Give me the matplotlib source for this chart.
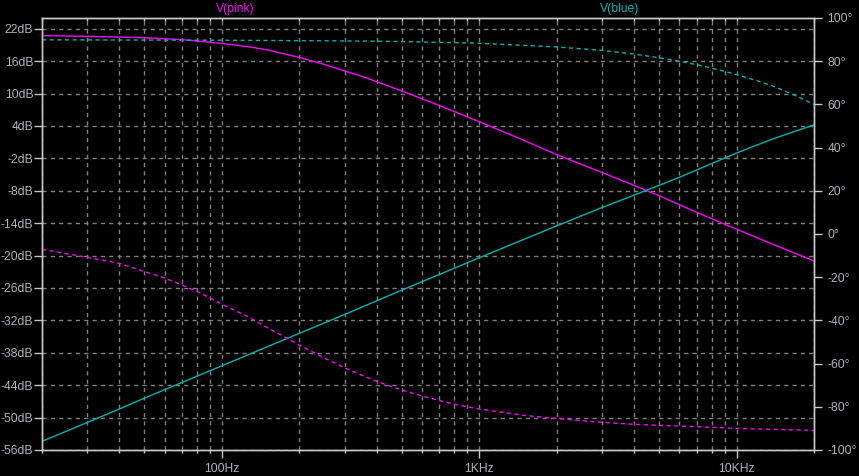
import matplotlib.pyplot as plt
import numpy as np
from matplotlib.ticker import FixedLocator, FixedFormatter, NullFormatter

# frequencies (Hz) and values
freq_pink_mag = [20, 30, 50, 70, 100, 130, 150, 200, 250, 300, 350, 400, 500,
                 700, 1000, 1500, 2000, 3000, 4000, 5000, 7000, 10000, 14000, 20000]
pink_mag = [20.75, 20.6, 20.35, 20.0, 19.3, 18.6, 18.1, 16.7, 15.4, 14.2, 13.2,
            12.2, 10.5, 7.8, 4.8, 1.3, -1.3, -4.6, -7.0, -8.9, -12.0, -15.1,
            -18.0, -21.0]

freq_pink_ph = [20, 30, 40, 50, 60, 70, 80, 90, 100, 125, 150, 175, 200, 250,
                300, 350, 400, 450, 500, 600, 700, 800, 900, 1000, 1500, 2000,
                3000, 4000, 5000, 7000, 10000, 20000]
pink_ph = [-7.1, -10.8, -13.6, -17.4, -20.4, -23.6, -26.6, -29.6, -32.5, -38.0,
           -43.3, -47.6, -51.4, -57.4, -61.9, -65.4, -68.2, -70.4, -72.2,
           -75.0, -77.1, -78.8, -80.0, -81.0, -84.0, -85.4, -87.2, -88.1,
           -88.6, -89.2, -90.0, -90.9]

freq_blue_mag = [20, 30, 40, 50, 70, 100, 200, 300, 500, 700, 1000, 2000,
                 3000, 4000, 6000, 10000, 14000, 20000]
blue_mag = [-54.4, -50.9, -48.4, -46.4, -43.5, -40.4, -34.4, -30.9, -26.4, -23.5,
            -20.4, -14.5, -11.1, -8.8, -5.5, -1.0, 1.7, 4.2]

freq_blue_ph = [20, 100, 300, 500, 1000, 2000, 3000, 4000, 5000, 6000, 7000,
                8000, 9000, 10000, 12000, 14000, 17000, 20000]
blue_ph = [89.9, 89.7, 89.4, 89.1, 88.3, 86.6, 85.0, 83.3, 81.6, 80.0, 78.4,
           76.8, 75.3, 73.8, 71.0, 68.3, 64.0, 60.0]

db_ticks = list(range(-56, 23, 6))
deg_ticks = list(range(-100, 101, 20))
freq_ticks = [100, 1000, 10000]
freq_labels = ['100Hz', '1KHz', '10KHz']

PINK = '#ff00ff'
BLUE = '#00b4b4'
AXC = '#c8c8c8'
TXT = '#aab4c0'
GRID = '#808080'
FS = 8.7

plt.rcParams['font.family'] = ['Liberation Sans', 'DejaVu Sans']

fig = plt.figure(figsize=(8.59, 4.76), dpi=100, facecolor='black')
ax = fig.add_axes([42 / 859, 1 - 450 / 476, (814 - 42) / 859, (450 - 18) / 476])
ax.set_facecolor('black')
ax2 = ax.twinx()

ax.plot(freq_pink_mag, pink_mag, color=PINK, lw=1)
ax.plot(freq_blue_mag, blue_mag, color=BLUE, lw=1)
ax2.plot(freq_pink_ph, pink_ph, color=PINK, lw=1, ls=(0, (3, 2.5)))
ax2.plot(freq_blue_ph, blue_ph, color=BLUE, lw=1, ls=(0, (3, 2.5)))

ax.set_xscale('log')
ax.set_xlim(20, 20000)
ax.set_ylim(-56, 24)
ax2.set_ylim(-100, 100)

ax.xaxis.set_major_locator(FixedLocator(freq_ticks))
ax.xaxis.set_major_formatter(FixedFormatter(freq_labels))
minors = [m * d for d in (10, 100, 1000) for m in range(2, 10)] + [20000]
ax.xaxis.set_minor_locator(FixedLocator(minors))
ax.xaxis.set_minor_formatter(NullFormatter())

ax.set_yticks(db_ticks)
ax.set_yticklabels([f'{v}dB' for v in db_ticks])
ax2.set_yticks(deg_ticks)
ax2.set_yticklabels([f'{v}°' for v in deg_ticks])

ax.grid(True, which='both', axis='x', color=GRID, ls=(0, (3, 3)), lw=1)
ax.grid(True, which='major', axis='y', color=GRID, ls=(0, (3, 3)), lw=1)

for a in (ax, ax2):
    for s in a.spines.values():
        s.set_color(AXC)
        s.set_linewidth(1)

ax.tick_params(axis='both', which='major', colors=AXC, labelcolor=TXT,
               labelsize=FS, length=5.5, width=1)
ax.tick_params(axis='x', which='minor', colors=AXC, length=2.2, width=1)
ax.tick_params(axis='y', pad=0.8)
ax.tick_params(axis='x', pad=4)
ax2.tick_params(axis='y', colors=AXC, labelcolor=TXT, labelsize=FS,
                length=5.5, width=1, pad=4)

top = ax.secondary_xaxis('top')
top.xaxis.set_major_locator(FixedLocator(freq_ticks))
top.xaxis.set_minor_locator(FixedLocator(minors))
top.xaxis.set_major_formatter(NullFormatter())
top.xaxis.set_minor_formatter(NullFormatter())
top.tick_params(which='both', direction='in', colors=AXC, length=2.5, width=1)
top.spines['top'].set_color(AXC)

fig.text(235 / 859, 1 - 9 / 476, 'V(pink)', color=PINK, fontsize=FS,
         ha='center', va='center')
fig.text(620 / 859, 1 - 9 / 476, 'V(blue)', color=BLUE, fontsize=FS,
         ha='center', va='center')

fig.savefig('out.png', dpi=100, facecolor='black')
